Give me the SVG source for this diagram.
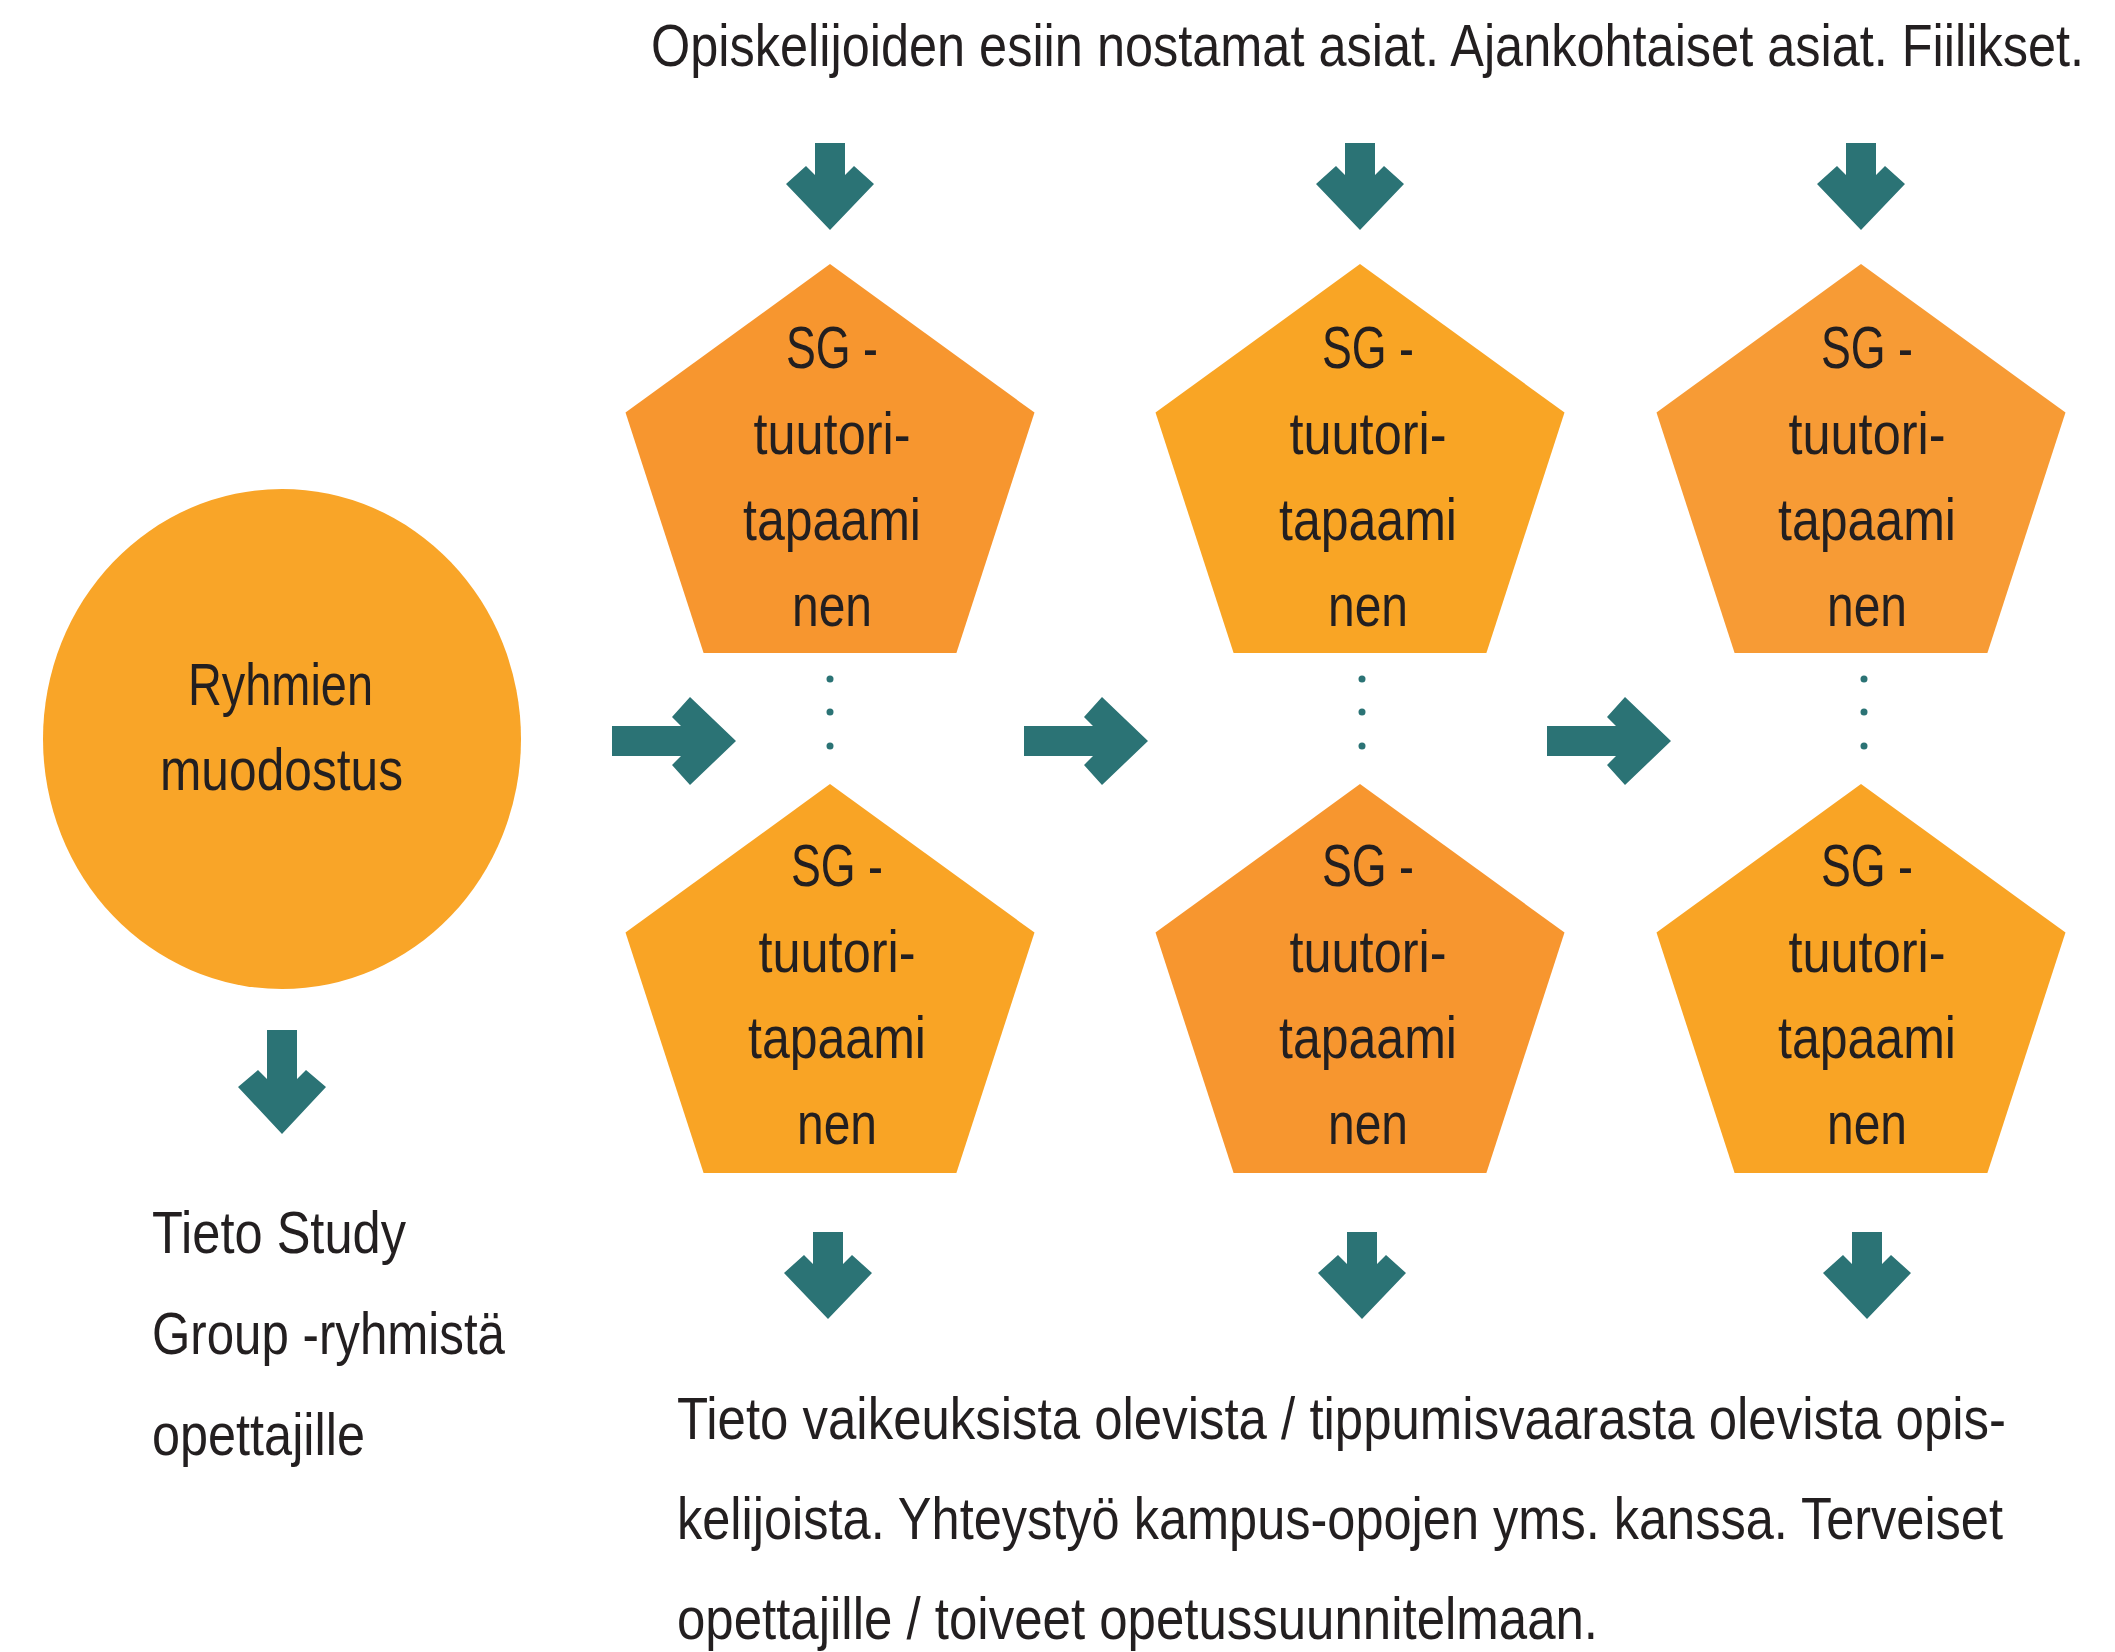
<svg xmlns="http://www.w3.org/2000/svg" width="2115" height="1652" viewBox="0 0 2115 1652">
<style>
  .t { font-family: "Liberation Sans", Arial, sans-serif; font-size: 50px; fill: #231F20; }
  .c { text-anchor: middle; }
  .arrow { fill: #2B7375; }
  .dot { fill: #2B7375; }
</style>
<defs>
  <path id="arrowRight" d="M0,0 L-46,-44 L-64,-24 L-55,-15 L-124,-15 L-124,15 L-55,15 L-64,24 L-46,44 Z"/>
  <path id="arrowDown" d="M0,0 L-44,-46 L-24,-64 L-15,-55 L-15,-87 L15,-87 L15,-55 L24,-64 L44,-46 Z"/>
  <path id="arrowDownLong" d="M0,0 L-44,-47 L-24,-64 L-15,-55 L-15,-104 L15,-104 L15,-55 L24,-64 L44,-47 Z"/>
  <polygon id="penta" points="0,-215 204.5,-66.4 126.4,173.9 -126.4,173.9 -204.5,-66.4"/>
</defs>
<rect width="2115" height="1652" fill="#FFFFFF"/>

<g id="top-label">
  <g transform="scale(1,1.18)">
    <text class="t" x="651" y="55.93" textLength="1433" lengthAdjust="spacingAndGlyphs">Opiskelijoiden esiin nostamat asiat. Ajankohtaiset asiat. Fiilikset.</text>
  </g>
</g>

<g id="node-circle">
  <ellipse cx="282" cy="739" rx="239" ry="250" fill="#F9A528"/>
  <g transform="scale(1,1.18)">
    <text class="t c" x="280.5" y="597.46" textLength="185" lengthAdjust="spacingAndGlyphs">Ryhmien</text>
    <text class="t c" x="281.5" y="669.49" textLength="243" lengthAdjust="spacingAndGlyphs">muodostus</text>
  </g>
</g>

<g id="node-p1-top">
  <use href="#penta" transform="translate(830,479)" fill="#F7962F"/>
  <g transform="scale(1,1.18)">
    <text class="t c" x="832" y="311.86" textLength="92" lengthAdjust="spacingAndGlyphs">SG -</text>
    <text class="t c" x="832" y="384.75" textLength="157" lengthAdjust="spacingAndGlyphs">tuutori-</text>
    <text class="t c" x="832" y="457.63" textLength="178" lengthAdjust="spacingAndGlyphs">tapaami</text>
    <text class="t c" x="832" y="530.51" textLength="80" lengthAdjust="spacingAndGlyphs">nen</text>
  </g>
</g>
<g id="node-p2-top">
  <use href="#penta" transform="translate(1360,479)" fill="#F9A525"/>
  <g transform="scale(1,1.18)">
    <text class="t c" x="1368" y="311.86" textLength="92" lengthAdjust="spacingAndGlyphs">SG -</text>
    <text class="t c" x="1368" y="384.75" textLength="157" lengthAdjust="spacingAndGlyphs">tuutori-</text>
    <text class="t c" x="1368" y="457.63" textLength="178" lengthAdjust="spacingAndGlyphs">tapaami</text>
    <text class="t c" x="1368" y="530.51" textLength="80" lengthAdjust="spacingAndGlyphs">nen</text>
  </g>
</g>
<g id="node-p3-top">
  <use href="#penta" transform="translate(1861,479)" fill="#F79B35"/>
  <g transform="scale(1,1.18)">
    <text class="t c" x="1867" y="311.86" textLength="92" lengthAdjust="spacingAndGlyphs">SG -</text>
    <text class="t c" x="1867" y="384.75" textLength="157" lengthAdjust="spacingAndGlyphs">tuutori-</text>
    <text class="t c" x="1867" y="457.63" textLength="178" lengthAdjust="spacingAndGlyphs">tapaami</text>
    <text class="t c" x="1867" y="530.51" textLength="80" lengthAdjust="spacingAndGlyphs">nen</text>
  </g>
</g>
<g id="node-p1-bottom">
  <use href="#penta" transform="translate(830,999)" fill="#F9A425"/>
  <g transform="scale(1,1.18)">
    <text class="t c" x="837" y="750.85" textLength="92" lengthAdjust="spacingAndGlyphs">SG -</text>
    <text class="t c" x="837" y="823.73" textLength="157" lengthAdjust="spacingAndGlyphs">tuutori-</text>
    <text class="t c" x="837" y="896.61" textLength="178" lengthAdjust="spacingAndGlyphs">tapaami</text>
    <text class="t c" x="837" y="969.49" textLength="80" lengthAdjust="spacingAndGlyphs">nen</text>
  </g>
</g>
<g id="node-p2-bottom">
  <use href="#penta" transform="translate(1360,999)" fill="#F7962F"/>
  <g transform="scale(1,1.18)">
    <text class="t c" x="1368" y="750.85" textLength="92" lengthAdjust="spacingAndGlyphs">SG -</text>
    <text class="t c" x="1368" y="823.73" textLength="157" lengthAdjust="spacingAndGlyphs">tuutori-</text>
    <text class="t c" x="1368" y="896.61" textLength="178" lengthAdjust="spacingAndGlyphs">tapaami</text>
    <text class="t c" x="1368" y="969.49" textLength="80" lengthAdjust="spacingAndGlyphs">nen</text>
  </g>
</g>
<g id="node-p3-bottom">
  <use href="#penta" transform="translate(1861,999)" fill="#F9A425"/>
  <g transform="scale(1,1.18)">
    <text class="t c" x="1867" y="750.85" textLength="92" lengthAdjust="spacingAndGlyphs">SG -</text>
    <text class="t c" x="1867" y="823.73" textLength="157" lengthAdjust="spacingAndGlyphs">tuutori-</text>
    <text class="t c" x="1867" y="896.61" textLength="178" lengthAdjust="spacingAndGlyphs">tapaami</text>
    <text class="t c" x="1867" y="969.49" textLength="80" lengthAdjust="spacingAndGlyphs">nen</text>
  </g>
</g>

<g id="left-label">
  <g transform="scale(1,1.18)">
    <text class="t" x="152" y="1061.86" textLength="254" lengthAdjust="spacingAndGlyphs">Tieto Study</text>
    <text class="t" x="152" y="1147.46" textLength="353" lengthAdjust="spacingAndGlyphs">Group -ryhmistä</text>
    <text class="t" x="152" y="1233.05" textLength="213" lengthAdjust="spacingAndGlyphs">opettajille</text>
  </g>
</g>

<g id="bottom-label">
  <g transform="scale(1,1.18)">
    <text class="t" x="677" y="1219.49" textLength="1329" lengthAdjust="spacingAndGlyphs">Tieto vaikeuksista olevista / tippumisvaarasta olevista opis-</text>
    <text class="t" x="677" y="1304.24" textLength="1326" lengthAdjust="spacingAndGlyphs">kelijoista. Yhteystyö kampus-opojen yms. kanssa. Terveiset</text>
    <text class="t" x="677" y="1388.98" textLength="921" lengthAdjust="spacingAndGlyphs">opettajille / toiveet opetussuunnitelmaan.</text>
  </g>
</g>

<g id="connectors">
  <use href="#arrowDown" class="arrow" transform="translate(830,230)"/>
  <use href="#arrowDown" class="arrow" transform="translate(1360,230)"/>
  <use href="#arrowDown" class="arrow" transform="translate(1861,230)"/>
  <use href="#arrowDown" class="arrow" transform="translate(828,1319)"/>
  <use href="#arrowDown" class="arrow" transform="translate(1362,1319)"/>
  <use href="#arrowDown" class="arrow" transform="translate(1867,1319)"/>
  <use href="#arrowDownLong" class="arrow" transform="translate(282,1134)"/>
  <use href="#arrowRight" class="arrow" transform="translate(736,741)"/>
  <use href="#arrowRight" class="arrow" transform="translate(1148,741)"/>
  <use href="#arrowRight" class="arrow" transform="translate(1671,741)"/>
  <circle class="dot" cx="830" cy="679" r="3.5"/>
  <circle class="dot" cx="830" cy="712" r="3.5"/>
  <circle class="dot" cx="830" cy="746" r="3.5"/>
  <circle class="dot" cx="1362" cy="679" r="3.5"/>
  <circle class="dot" cx="1362" cy="712" r="3.5"/>
  <circle class="dot" cx="1362" cy="746" r="3.5"/>
  <circle class="dot" cx="1864" cy="679" r="3.5"/>
  <circle class="dot" cx="1864" cy="712" r="3.5"/>
  <circle class="dot" cx="1864" cy="746" r="3.5"/>
</g>
</svg>
